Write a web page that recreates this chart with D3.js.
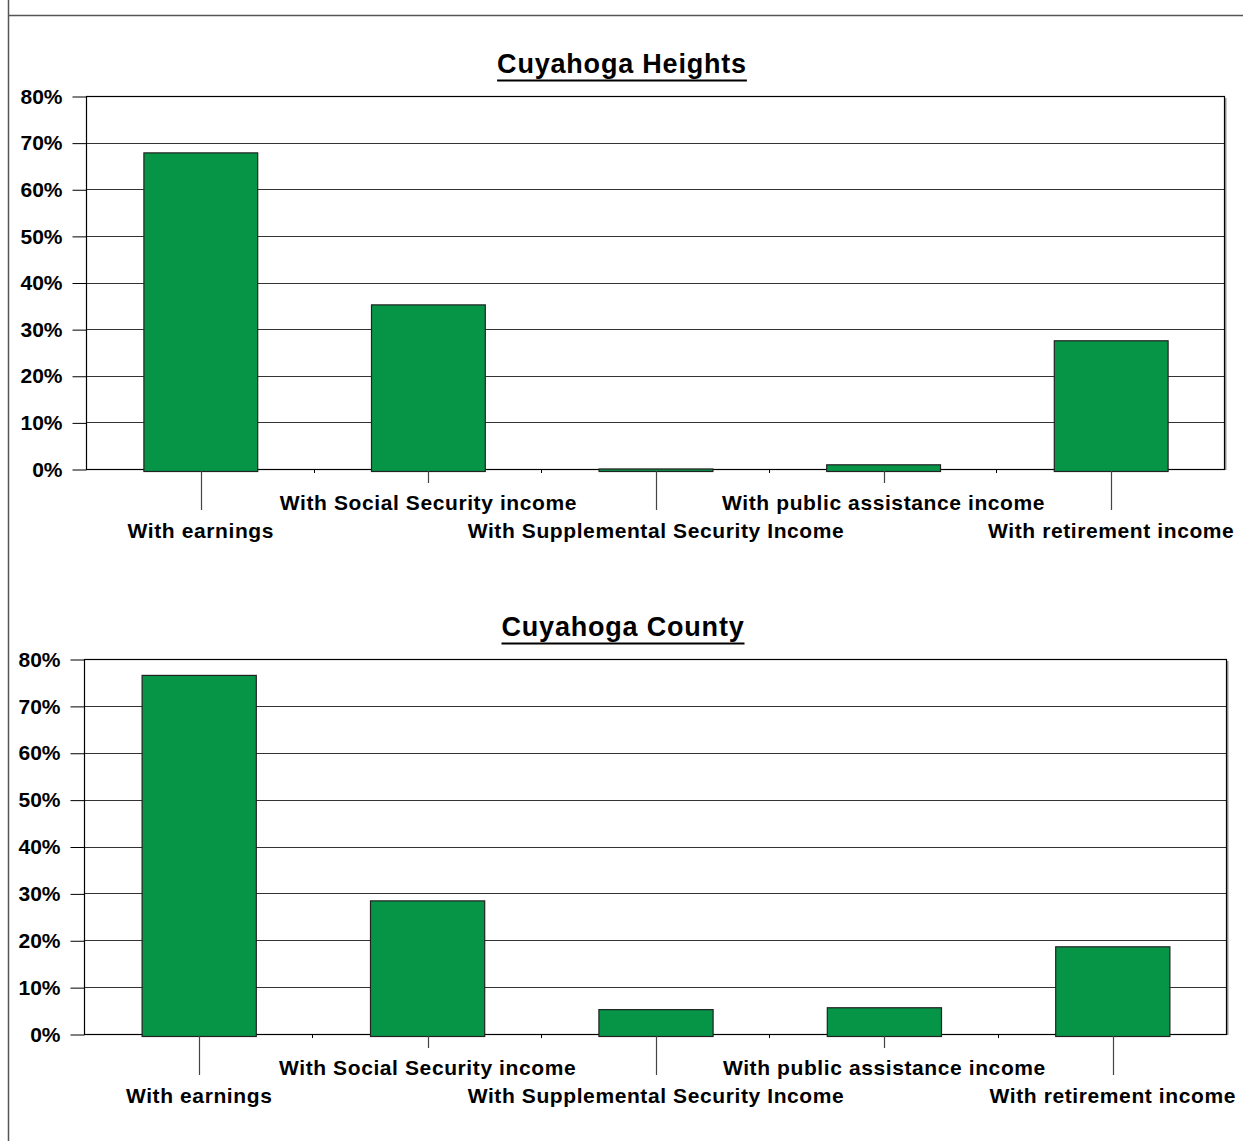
<!DOCTYPE html>
<html>
<head>
<meta charset="utf-8">
<script src="https://cdn.jsdelivr.net/npm/d3@7"></script>
<style>
  body { margin: 0; background: #fff; }
  text { font-family: "Liberation Sans", Arial, sans-serif; font-weight: bold; fill: #000; }
</style>
</head>
<body>
<svg id="page" width="1243" height="1141"></svg>
<script>
// categories and values (percent of households)
var categories = [
  "With earnings",
  "With Social Security income",
  "With Supplemental Security Income",
  "With public assistance income",
  "With retirement income"
];
var heightsValues = [67.8, 35.2, 0.0, 0.9, 27.5];
var countyValues = [76.5, 28.4, 5.2, 5.6, 18.6];
var yTicks = [0, 10, 20, 30, 40, 50, 60, 70, 80];

var svg = d3.select("#page");

// outer frame lines
svg.append("line").attr("x1", 8.5).attr("x2", 8.5).attr("y1", 0).attr("y2", 1141)
  .attr("stroke", "#555").attr("stroke-width", 1.5);
svg.append("line").attr("x1", 8).attr("x2", 1243).attr("y1", 15.5).attr("y2", 15.5)
  .attr("stroke", "#555").attr("stroke-width", 1.5);

function drawChart(title, values, box) {
  var g = svg.append("g");

  var x = d3.scaleBand()
    .domain(categories)
    .range([box.left, box.right])
    .paddingInner(0.5)
    .paddingOuter(0.25);

  var y = d3.scaleLinear()
    .domain([0, 80])
    .range([box.bottom, box.top]);

  // shadow on the right of the plot area
  g.append("line")
    .attr("x1", box.right + 1.5).attr("x2", box.right + 1.5)
    .attr("y1", box.top + 2).attr("y2", box.bottom + 1)
    .attr("stroke", "#999").attr("stroke-width", 2);

  // gridlines
  g.selectAll(".grid").data(yTicks.slice(1, -1)).enter().append("line")
    .attr("x1", box.left).attr("x2", box.right)
    .attr("y1", d => Math.round(y(d)) + 0.5).attr("y2", d => Math.round(y(d)) + 0.5)
    .attr("stroke", "#333").attr("stroke-width", 1);

  // plot frame
  g.append("rect")
    .attr("x", box.left + 0.5).attr("y", box.top + 0.5)
    .attr("width", box.right - box.left).attr("height", box.bottom - box.top)
    .attr("fill", "none").attr("stroke", "#000").attr("stroke-width", 1.2);

  // y axis
  var yAxis = d3.axisLeft(y)
    .tickValues(yTicks)
    .tickFormat(d => d + "%")
    .tickSize(14)
    .tickPadding(10);
  var ya = g.append("g")
    .attr("transform", "translate(" + (box.left + 0.5) + ",0.5)")
    .call(yAxis);
  ya.select(".domain").remove();
  ya.selectAll(".tick line").attr("stroke", "#000");
  ya.selectAll(".tick text")
    .style("font-size", "21px").style("font-weight", "bold")
    .attr("fill", "#000");

  // category boundary ticks
  g.selectAll(".ctick").data(d3.range(1, categories.length)).enter().append("line")
    .attr("x1", i => Math.round(box.left + i * (box.right - box.left) / categories.length) + 0.5)
    .attr("x2", i => Math.round(box.left + i * (box.right - box.left) / categories.length) + 0.5)
    .attr("y1", box.bottom).attr("y2", box.bottom + 4)
    .attr("stroke", "#000");

  // bars
  g.selectAll(".bar").data(values).enter().append("rect")
    .attr("x", (d, i) => x(categories[i]) + 1)
    .attr("y", d => y(d))
    .attr("width", x.bandwidth())
    .attr("height", d => y(0) - y(d) + 2.5)
    .attr("fill", "#069447")
    .attr("stroke", "#222")
    .attr("stroke-width", 1.2);

  // leader lines and staggered labels
  g.selectAll(".leader").data(categories).enter().append("line")
    .attr("x1", d => Math.round(x(d) + x.bandwidth() / 2) + 1.5)
    .attr("x2", d => Math.round(x(d) + x.bandwidth() / 2) + 1.5)
    .attr("y1", box.bottom + 2)
    .attr("y2", (d, i) => box.bottom + (i % 2 ? 14 : 41))
    .attr("stroke", "#444").attr("stroke-width", 1.2);

  g.selectAll(".clabel").data(categories).enter().append("text")
    .attr("x", d => x(d) + x.bandwidth() / 2 + 1)
    .attr("y", (d, i) => box.bottom + (i % 2 ? 41 : 69))
    .attr("text-anchor", "middle")
    .style("font-size", "21px")
    .style("letter-spacing", "0.6px")
    .text(d => d);

  // title
  var t = g.append("text")
    .attr("x", box.titleX)
    .attr("y", box.top - 23)
    .attr("text-anchor", "middle")
    .style("font-size", "27px")
    .style("letter-spacing", "0.8px")
    .text(title);
  var bb = t.node().getBBox();
  g.append("line")
    .attr("x1", bb.x).attr("x2", bb.x + bb.width)
    .attr("y1", box.top - 15.5).attr("y2", box.top - 15.5)
    .attr("stroke", "#000").attr("stroke-width", 2);
}

drawChart("Cuyahoga Heights", heightsValues, {left: 86, right: 1224, top: 96, bottom: 469, titleX: 622});
drawChart("Cuyahoga County", countyValues, {left: 84, right: 1226, top: 659, bottom: 1034, titleX: 623});
</script>
</body>
</html>
